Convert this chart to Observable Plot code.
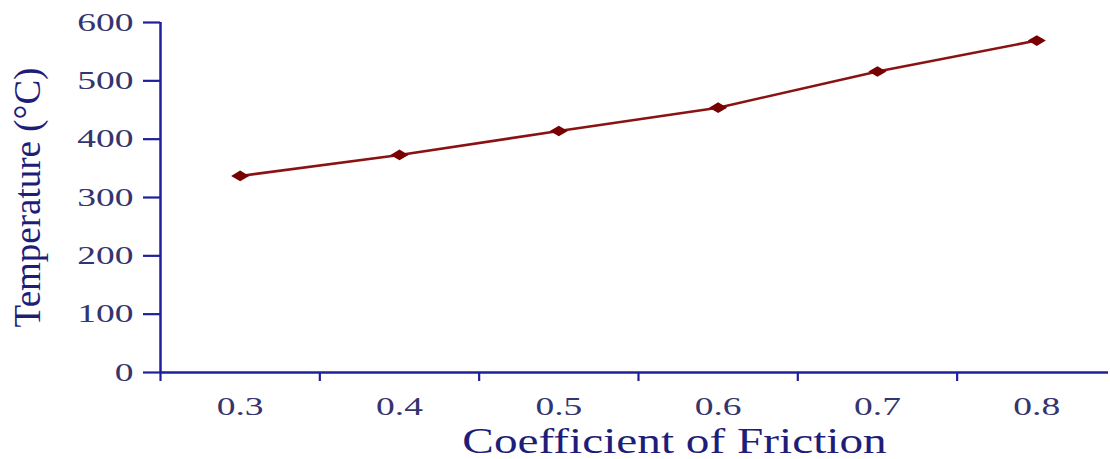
<!DOCTYPE html>
<html>
<head>
<meta charset="utf-8">
<script src="https://cdn.jsdelivr.net/npm/d3@7"></script>
<script src="https://cdn.jsdelivr.net/npm/@observablehq/plot@0.6"></script>
<style>
  html, body { margin: 0; padding: 0; background: #ffffff; }
  #chart { width: 1110px; height: 459px; overflow: hidden; }
</style>
</head>
<body>
<div id="chart"></div>
<script>
// ---- data ----
const coefficients = [0.3, 0.4, 0.5, 0.6, 0.7, 0.8];
const temperatures = [337, 373, 414, 454, 516, 569];
const yTicks = [0, 100, 200, 300, 400, 500, 600];
const xLabelTicks = [0.3, 0.4, 0.5, 0.6, 0.7, 0.8];
const xBoundaryTicks = [0.25, 0.35, 0.45, 0.55, 0.65, 0.75];
const xTitle = "Coefficient of Friction";
const yTitle = "Temperature (°C)";

const data = coefficients.map((c, i) => ({coef: c, temp: temperatures[i]}));

const axisColor = "#1f1f9c";
const labelColor = "#34346e";
const titleColor = "#1e1e78";
const lineColor = "#8a1212";
const markerColor = "#780000";

const flatDiamond = {
  draw(ctx, size) {
    const s = Math.sqrt(size);
    const w = s * 0.85, h = s * 0.5;
    ctx.moveTo(-w, 0);
    ctx.lineTo(0, -h);
    ctx.lineTo(w, 0);
    ctx.lineTo(0, h);
    ctx.closePath();
  }
};

const fmt = d3.format(".1f");

const chart = Plot.plot({
  width: 1110,
  height: 459,
  marginLeft: 160,
  marginRight: 2,
  marginTop: 22,
  marginBottom: 87,
  style: {fontFamily: "'Liberation Serif', 'Times New Roman', serif", background: "#ffffff"},
  x: {domain: [0.25, 0.845]},
  y: {domain: [0, 600]},
  marks: [
    Plot.axisY({ticks: yTicks, tickSize: 17, tickPadding: 10, fontSize: 25,
      stroke: axisColor, strokeWidth: 2.2, fill: labelColor, label: null}),
    Plot.axisX({ticks: xBoundaryTicks, tickSize: 9, tickFormat: () => "",
      stroke: axisColor, strokeWidth: 2.2, label: null}),
    Plot.axisX({ticks: xLabelTicks, tickSize: 0, tickPadding: 25, fontSize: 25,
      tickFormat: fmt, fill: labelColor, label: null}),
    Plot.ruleY([0], {stroke: axisColor, strokeWidth: 2.5}),
    Plot.ruleX([0.25], {y1: 0, y2: 600, stroke: axisColor, strokeWidth: 2.5}),
    Plot.line(data, {x: "coef", y: "temp", stroke: lineColor, strokeWidth: 2.6}),
    Plot.dot(data, {x: "coef", y: "temp", symbol: flatDiamond, r: 6, fill: markerColor, stroke: "none"}),
    Plot.text([xTitle], {frameAnchor: "bottom", dy: 80, dx: 40, fontSize: 35,
      textAnchor: "middle", fill: titleColor}),
    Plot.text([yTitle], {frameAnchor: "left", dx: -132, rotate: -90, fontSize: 37,
      textAnchor: "middle", fill: titleColor})
  ]
});

document.getElementById("chart").appendChild(chart);

// horizontally stretch text (the reference's glyphs are wide)
const tickLabelSet = new Set([...yTicks.map(String), ...xLabelTicks.map(fmt)]);
chart.querySelectorAll("text").forEach(el => {
  const s = el.textContent;
  let sx = null;
  if (tickLabelSet.has(s)) sx = 1.5;
  else if (s === xTitle) sx = 1.35;
  if (sx) {
    const len = el.getComputedTextLength();
    el.setAttribute("textLength", len * sx);
    el.setAttribute("lengthAdjust", "spacingAndGlyphs");
  }
});
</script>
</body>
</html>
